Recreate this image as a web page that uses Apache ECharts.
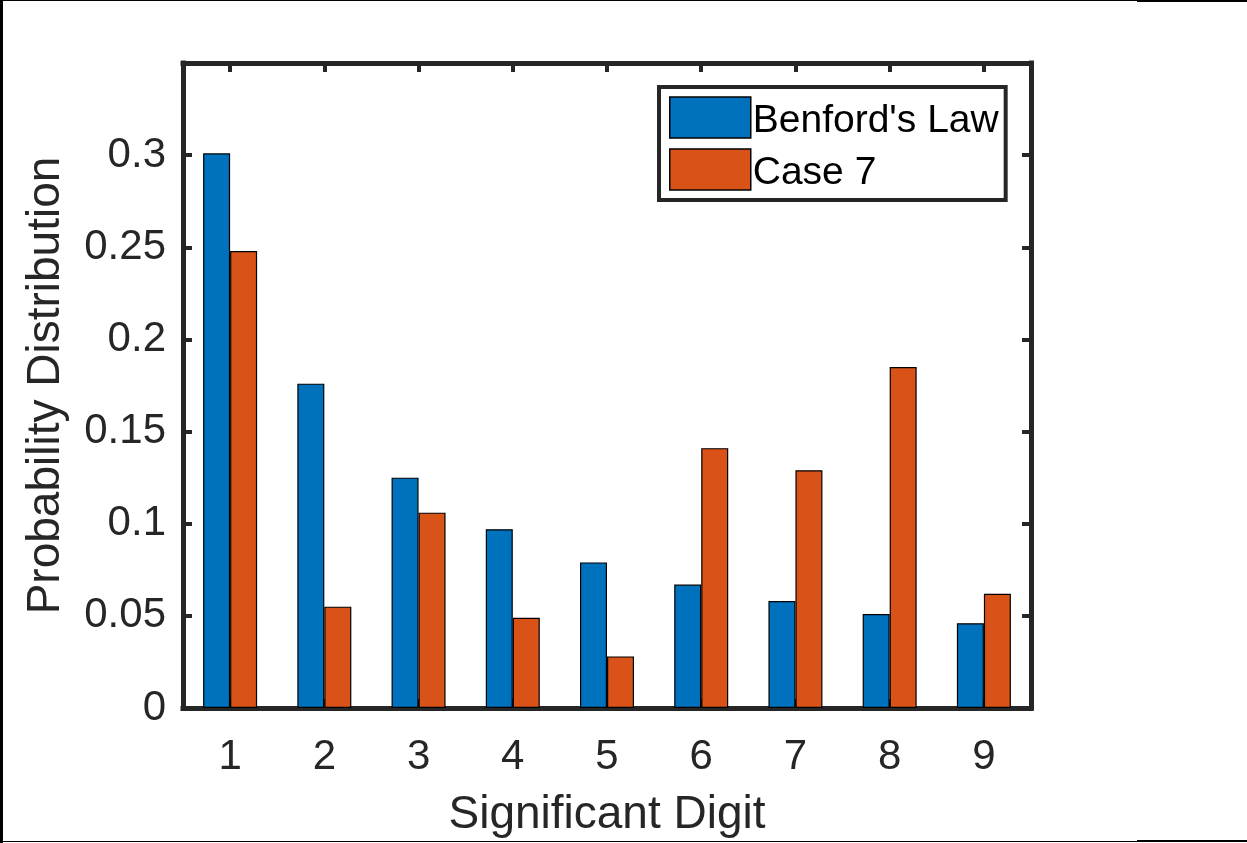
<!DOCTYPE html>
<html>
<head>
<meta charset="utf-8">
<title>Benford's Law vs Case 7</title>
<script src="https://cdn.jsdelivr.net/npm/echarts@6/dist/echarts.min.js"></script>
<style>
  html, body { margin: 0; padding: 0; background: #fff; }
  #chart { width: 1247px; height: 843px; }
</style>
</head>
<body>
<div id="chart"></div>
<script>
// First significant digit categories
const digits = ['1', '2', '3', '4', '5', '6', '7', '8', '9'];
// Benford's law expected probabilities, log10(1 + 1/d)
const benford = [0.301, 0.176, 0.125, 0.097, 0.079, 0.067, 0.058, 0.051, 0.046];
// Observed first-digit distribution for Case 7
const case7 = [0.248, 0.055, 0.106, 0.049, 0.028, 0.141, 0.129, 0.185, 0.062];
const seriesNames = ["Benford's Law", 'Case 7'];

const FONT = "'Liberation Sans', Arial, Helvetica, sans-serif";
const INK = '#262626';
const AXIS_W = 5;

const chart = echarts.init(document.getElementById('chart'), null, { renderer: 'canvas' });

const boxLine = { show: true, onZero: false, lineStyle: { color: INK, width: AXIS_W, cap: 'square' } };
const boxTick = { show: true, inside: true, length: 9, lineStyle: { color: INK, width: 4 } };
const hiddenAxisBits = {
  axisLabel: { show: false },
  splitLine: { show: false }
};

chart.setOption({
  backgroundColor: '#ffffff',
  animation: false,
  textStyle: { fontFamily: FONT, color: INK },
  grid: { left: 183, right: 216, top: 63, bottom: 133, containLabel: false },
  legend: {
    orient: 'vertical',
    left: 659,
    top: 87,
    padding: [7, 7, 7, 10],
    itemWidth: 81,
    itemHeight: 41,
    itemGap: 5,
    borderColor: INK,
    borderWidth: 4,
    backgroundColor: '#fff',
    icon: 'rect',
    formatter: name => '{t|' + name + '}',
    textStyle: {
      fontFamily: FONT, fontSize: 39, color: '#000',
      rich: { t: { fontFamily: FONT, fontSize: 39, lineHeight: 39, color: '#000', padding: [8, 0, 0, -3] } }
    },
    itemStyle: { borderColor: '#000', borderWidth: 1.5 },
    data: seriesNames
  },
  xAxis: [
    {
      type: 'category',
      data: digits,
      position: 'bottom',
      name: 'Significant Digit',
      nameLocation: 'middle',
      nameGap: 84,
      nameTextStyle: { fontFamily: FONT, fontSize: 46, color: INK },
      axisLine: boxLine,
      axisTick: Object.assign({ alignWithLabel: true }, boxTick),
      axisLabel: { fontFamily: FONT, fontSize: 42, color: INK, margin: 28 },
      splitLine: { show: false }
    },
    Object.assign({
      type: 'category',
      data: digits,
      position: 'top',
      axisLine: boxLine,
      axisTick: Object.assign({ alignWithLabel: true }, boxTick)
    }, hiddenAxisBits)
  ],
  yAxis: [
    {
      type: 'value',
      min: 0,
      max: 0.35,
      interval: 0.05,
      position: 'left',
      name: 'Probability Distribution',
      nameLocation: 'middle',
      nameGap: 114,
      nameRotate: 90,
      nameTextStyle: { fontFamily: FONT, fontSize: 46, color: INK },
      axisLine: boxLine,
      axisTick: boxTick,
      axisLabel: {
        fontFamily: FONT, fontSize: 42, color: INK, margin: 17,
        showMaxLabel: false,
        formatter: v => (Math.round(v * 100) / 100).toString()
      },
      splitLine: { show: false }
    },
    Object.assign({
      type: 'value',
      min: 0,
      max: 0.35,
      interval: 0.05,
      position: 'right',
      axisLine: boxLine,
      axisTick: boxTick
    }, hiddenAxisBits)
  ],
  series: [
    {
      name: seriesNames[0],
      type: 'bar',
      data: benford,
      barWidth: 27,
      barGap: '0%',
      itemStyle: { color: '#0072BD', borderColor: '#000', borderWidth: 1.2 }
    },
    {
      name: seriesNames[1],
      type: 'bar',
      data: case7,
      barWidth: 27,
      barGap: '0%',
      itemStyle: { color: '#D95319', borderColor: '#000', borderWidth: 1.2 }
    }
  ],
  graphic: [
    // thin outer frame along the left, top and bottom edges
    { type: 'rect', shape: { x: 0, y: 0, width: 3, height: 843 }, style: { fill: '#000' }, silent: true },
    { type: 'rect', shape: { x: 0, y: 0, width: 1137, height: 1 }, style: { fill: '#000' }, silent: true },
    { type: 'rect', shape: { x: 1137, y: 0, width: 110, height: 2 }, style: { fill: '#000' }, silent: true },
    { type: 'rect', shape: { x: 0, y: 841, width: 1137, height: 1 }, style: { fill: '#000' }, silent: true },
    { type: 'rect', shape: { x: 1137, y: 840, width: 110, height: 2 }, style: { fill: '#000' }, silent: true }
  ]
});
</script>
</body>
</html>
